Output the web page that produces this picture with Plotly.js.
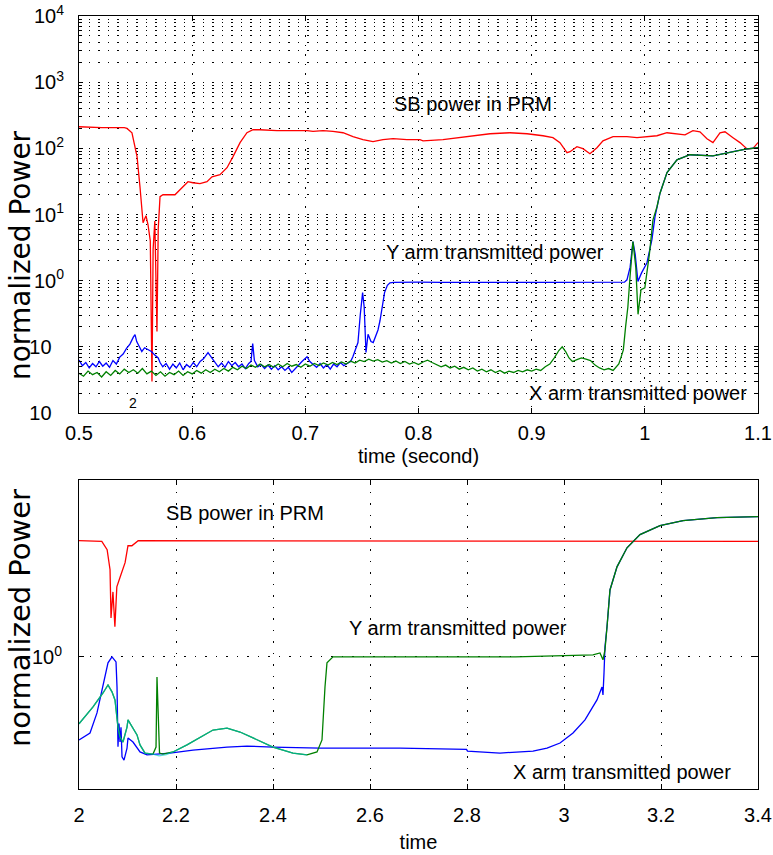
<!DOCTYPE html>
<html>
<head>
<meta charset="utf-8">
<script src="https://cdn.plot.ly/plotly-3.0.1.min.js"></script>
<style>html,body{margin:0;padding:0;background:#fff;}#chart{width:773px;height:855px;}</style>
</head>
<body>
<div id="chart"></div>
<script>
// ---------- TOP PANEL DATA (time in seconds, normalized power) ----------
const topSBTime = [0.500,0.520,0.540,0.5424,0.5468,0.5513,0.5539,0.5557,0.5566,0.5592,0.5610,0.5630,0.5645,0.5655,0.5670,0.5689,0.5700,0.5716,0.5742,0.5848,0.5910,0.5963,0.6007,0.6069,0.6131,0.6175,0.6246,0.6308,0.6361,0.6423,0.6484,0.6538,0.6599,0.6750,0.6891,0.7015,0.7068,0.7156,0.7244,0.7333,0.7421,0.7509,0.7598,0.7686,0.7775,0.7898,0.8013,0.8040,0.8216,0.8428,0.8632,0.8808,0.8959,0.9100,0.9188,0.9250,0.9312,0.9339,0.9400,0.9453,0.9515,0.9577,0.9630,0.9719,0.9842,0.9931,1.0019,1.0107,1.0196,1.0284,1.0355,1.0425,1.0487,1.0549,1.0602,1.0664,1.0708,1.0779,1.0841,1.0903,1.0956,1.1000];
const topSBPower = [212,205,205,200,172,75,26,10.6,7.5,9.6,7.0,4.0,0.03,3.0,8.0,0.17,6.0,18.6,19.9,19.9,25.4,31.3,30.2,29.2,31.3,37.2,39.9,51,75,122,172,191,191,185,185,185,180,185,180,172,150,135,126,135,140,135,135,130,135,150,166,172,166,155,145,122,86,89,106,99,83,102,130,150,150,145,150,155,172,166,160,185,178,140,122,172,178,145,122,98,100,122];

const topYArmTime = [0.500,0.503,0.506,0.509,0.512,0.515,0.518,0.521,0.524,0.527,
  0.530,0.533,0.536,0.539,0.542,0.545,0.548,0.5495,0.551,0.553,
  0.5555,0.558,0.561,0.564,0.567,0.570,0.5716,0.574,0.577,0.580,
  0.583,0.586,0.589,0.592,0.595,0.598,0.601,0.604,0.607,0.610,
  0.614,0.617,0.620,0.623,0.626,0.629,0.632,0.635,0.638,0.641,
  0.644,0.647,0.650,0.652,0.6535,0.655,0.658,0.661,0.664,0.667,
  0.670,0.673,0.676,0.679,0.682,0.685,0.688,0.691,0.694,0.697,
  0.7015,0.704,0.707,0.710,0.713,0.716,0.719,0.722,0.725,0.728,
  0.731,0.734,0.737,0.740,0.742,0.7445,0.7465,0.7485,0.7506,0.752,
  0.7536,0.7554,0.758,0.760,0.762,0.7642,0.766,0.7677,0.770,0.7725,
  0.7748,0.778,0.785,0.80,0.82,0.84,0.86,0.88,0.90,0.92,
  0.94,0.96,0.975,0.982,0.9842,0.987,0.9895,0.9915,0.9939,0.997,
  1.0019,1.0063,1.009,1.0107,1.0134,1.0196,1.0284,1.0399,1.0602,1.0779,
  1.0903,1.1];
const topYArmPower = [0.063,0.052,0.058,0.048,0.056,0.050,0.060,0.051,0.057,0.049,
  0.062,0.055,0.070,0.078,0.095,0.110,0.140,0.153,0.120,0.100,
  0.085,0.097,0.090,0.085,0.075,0.068,0.058,0.050,0.056,0.046,
  0.055,0.048,0.057,0.045,0.054,0.049,0.058,0.050,0.060,0.066,
  0.082,0.070,0.058,0.050,0.057,0.049,0.060,0.052,0.058,0.050,
  0.055,0.047,0.056,0.060,0.112,0.062,0.050,0.054,0.047,0.053,
  0.046,0.052,0.045,0.050,0.044,0.049,0.041,0.047,0.053,0.060,
  0.071,0.060,0.054,0.049,0.056,0.048,0.054,0.046,0.055,0.050,
  0.058,0.052,0.056,0.060,0.071,0.090,0.116,0.300,0.660,0.400,
  0.082,0.155,0.120,0.116,0.140,0.180,0.250,0.360,0.660,0.850,
  0.930,0.945,0.950,0.950,0.940,0.935,0.940,0.945,0.940,0.945,
  0.940,0.945,0.940,0.950,1.03,1.6,3.9,2.5,0.97,1.3,
  1.87,4.2,9.3,13,21,43,67,80,77,89,
  98,102];

const topXArmTime = [0.500,0.504,0.508,0.512,0.516,0.520,0.524,0.528,0.532,0.536,
  0.540,0.544,0.548,0.552,0.556,0.560,0.564,0.568,0.572,0.576,
  0.580,0.584,0.588,0.592,0.596,0.600,0.604,0.608,0.612,0.616,
  0.620,0.624,0.628,0.632,0.636,0.640,0.644,0.648,0.652,0.656,
  0.660,0.664,0.668,0.672,0.676,0.680,0.684,0.688,0.692,0.696,
  0.700,0.704,0.708,0.712,0.716,0.720,0.724,0.728,0.732,0.736,
  0.740,0.744,0.748,0.752,0.756,0.760,0.764,0.768,0.772,0.776,
  0.780,0.784,0.788,0.792,0.796,0.800,0.804,0.808,0.812,0.816,
  0.820,0.824,0.828,0.832,0.836,0.840,0.844,0.848,0.852,0.856,
  0.860,0.864,0.868,0.872,0.876,0.880,0.884,0.888,0.892,0.896,
  0.900,0.904,0.908,0.912,0.916,0.920,0.924,0.927,0.930,0.933,
  0.936,0.940,0.944,0.948,0.952,0.956,0.960,0.964,0.968,0.972,
  0.975,0.977,0.979,0.981,0.983,0.985,0.987,0.9895,0.992,0.994,
  0.9966,1.000,1.004,1.0072,1.009,1.0107,1.0134,1.0196,1.0284,1.0399,
  1.0602,1.0779,1.0903,1.1];
const topXArmPower = [0.040,0.036,0.043,0.038,0.041,0.035,0.042,0.037,0.044,0.039,
  0.046,0.041,0.045,0.040,0.047,0.039,0.043,0.037,0.042,0.036,
  0.041,0.038,0.043,0.037,0.042,0.039,0.044,0.040,0.045,0.041,
  0.046,0.042,0.047,0.043,0.049,0.045,0.051,0.047,0.053,0.049,
  0.055,0.050,0.054,0.049,0.055,0.050,0.056,0.051,0.054,0.049,
  0.055,0.051,0.056,0.052,0.057,0.053,0.058,0.054,0.059,0.055,
  0.061,0.057,0.063,0.060,0.065,0.061,0.064,0.059,0.062,0.057,
  0.061,0.056,0.060,0.055,0.058,0.054,0.059,0.063,0.058,0.054,
  0.050,0.053,0.048,0.051,0.046,0.049,0.045,0.048,0.043,0.046,
  0.042,0.045,0.041,0.044,0.040,0.043,0.041,0.044,0.042,0.045,
  0.043,0.046,0.044,0.050,0.055,0.068,0.088,0.100,0.085,0.068,
  0.060,0.064,0.068,0.065,0.062,0.053,0.048,0.045,0.047,0.044,
  0.050,0.055,0.070,0.090,0.20,0.40,1.2,3.9,1.6,0.31,
  0.73,0.78,2.5,8.3,10.5,13,21,43,67,80,
  77,89,98,102];

const topXTicks = [0.5,0.6,0.7,0.8,0.9,1.0,1.1];
const topXTickText = ['0.5','0.6','0.7','0.8','0.9','1','1.1'];
const topDecades = [-2,-1,0,1,2,3,4];
const topDecadeText = ['10<span style="color:white"><sup>-2</sup></span>','10<span style="color:white"><sup>-1</sup></span>','10<sup>0</sup>','10<sup>1</sup>','10<sup>2</sup>','10<sup>3</sup>','10<sup>4</sup>'];

// ---------- BOTTOM PANEL DATA ----------
const botSBTime = [2.000,2.040,2.047,2.058,2.064,2.066,2.070,2.074,2.078,2.085,2.095,2.101,2.109,2.122,2.500,3.000,3.400];
const botSBPower = [4.54,4.54,4.50,4.04,3.11,1.66,2.33,1.48,2.49,2.84,3.41,4.25,4.25,4.54,4.52,4.50,4.50];

const botXArmTime = [2.000,2.0227,2.0371,2.0495,2.0598,2.0680,2.0722,2.0763,2.0784,2.0794,
  2.0804,2.0825,2.0845,2.0866,2.0887,2.0928,2.0990,2.1010,2.1113,2.1258,
  2.1402,2.1876,2.2351,2.3052,2.3464,2.4000,2.4969,2.6619,2.7990,2.8010,
  2.8680,2.9361,2.9649,2.9918,3.0186,3.0433,3.0680,3.0784,3.0804,3.0825,
  3.0845,3.0887,3.0948,3.1093,3.1299,3.1567,3.1979,3.2454,3.3155,3.4000];
const botXArmPower = [0.339,0.371,0.482,0.676,0.925,1.0,0.962,0.937,0.676,0.50,
  0.31,0.42,0.33,0.40,0.272,0.261,0.305,0.348,0.330,0.290,
  0.279,0.286,0.297,0.309,0.313,0.309,0.305,0.305,0.300,0.293,
  0.286,0.293,0.305,0.326,0.371,0.440,0.571,0.676,0.609,0.812,
  1.14,1.48,2.39,3.23,4.14,4.91,5.52,5.89,6.13,6.21];

const botYArmTime = [2.000,2.0289,2.0495,2.0598,2.0680,2.0742,2.0804,2.0845,2.0907,2.0990,
  2.1010,2.1093,2.1196,2.1258,2.1361,2.1526,2.1588,2.1608,2.1629,2.1649,
  2.1660,2.1732,2.1938,2.2227,2.2495,2.2763,2.3052,2.3320,2.3588,2.4000,
  2.4412,2.4701,2.4907,2.5010,2.5072,2.5113,2.5237,2.7000,2.9000,3.0598,
  3.0742,3.0804,3.0845,3.0887,3.0948,3.1093,3.1299,3.1567,3.1979,3.2454,
  3.3155,3.4000];
const botYArmPower = [0.418,0.521,0.625,0.694,0.634,0.571,0.401,0.352,0.330,0.401,
  0.440,0.401,0.362,0.318,0.286,0.282,0.309,0.770,0.521,0.440,
  0.286,0.282,0.290,0.318,0.352,0.386,0.396,0.376,0.348,0.309,
  0.286,0.279,0.290,0.339,0.676,0.925,1.0,1.0,1.0,1.026,
  1.053,0.962,1.095,1.48,2.39,3.23,4.14,4.91,5.52,5.89,
  6.13,6.21];

const botYArmAltTime = [2.000,2.0289,2.0495,2.0598,2.0680,2.0742,2.0804,2.0845,2.0907,2.0990,2.1010,2.1093,2.1196,2.1258,2.1361,2.1526,2.1650,2.1800,2.1938,2.2227,2.2495,2.2763,2.3052,2.3320,2.3588,2.4000,2.4412,2.4701];
const botYArmAltPower = [0.418,0.521,0.625,0.694,0.634,0.571,0.401,0.352,0.330,0.401,0.440,0.401,0.362,0.318,0.286,0.282,0.276,0.280,0.290,0.318,0.352,0.386,0.396,0.376,0.348,0.309,0.286,0.279];

const botXTicks = [2.0,2.2,2.4,2.6,2.8,3.0,3.2,3.4];
const botXTickText = ['2','2.2','2.4','2.6','2.8','3','3.2','3.4'];

// ---------- BUILD ----------
const topMajorVals = topDecades.map(d => Math.pow(10, d));
const topMinorVals = [];
topDecades.slice(0, -1).forEach(d => {
  for (let k = 2; k <= 9; k++) topMinorVals.push(k * Math.pow(10, d));
});

const FONT = 'Liberation Sans, Arial, Helvetica, sans-serif';
const RED = '#ff0000', BLUE = '#0000ff', GREEN = '#008000';
const DOTS = '1.5px,8px';

const traces = [
  {x: topSBTime, y: topSBPower, xaxis: 'x', yaxis: 'y', mode: 'lines', name: 'SB power in PRM', line: {color: RED, width: 1.3}},
  {x: topYArmTime, y: topYArmPower, xaxis: 'x', yaxis: 'y', mode: 'lines', name: 'Y arm transmitted power', line: {color: BLUE, width: 1.3}},
  {x: topXArmTime, y: topXArmPower, xaxis: 'x', yaxis: 'y', mode: 'lines', name: 'X arm transmitted power', line: {color: GREEN, width: 1.3}},
  {x: botSBTime, y: botSBPower, xaxis: 'x2', yaxis: 'y2', mode: 'lines', name: 'SB power in PRM', line: {color: RED, width: 1.3}},
  {x: botXArmTime, y: botXArmPower, xaxis: 'x2', yaxis: 'y2', mode: 'lines', name: 'X arm transmitted power', line: {color: BLUE, width: 1.3}},
  {x: botYArmTime, y: botYArmPower, xaxis: 'x2', yaxis: 'y2', mode: 'lines', name: 'Y arm transmitted power', line: {color: GREEN, width: 1.3}},
  {x: botYArmAltTime, y: botYArmAltPower, xaxis: 'x2', yaxis: 'y2', mode: 'lines', name: 'Y arm (alt)', opacity: 0.65, line: {color: '#00c8c8', width: 1.3}}
];

const axBase = {
  showline: true, linecolor: '#000', linewidth: 1, mirror: 'ticks',
  ticks: 'inside', tickcolor: '#000', ticklen: 4, tickwidth: 1,
  showgrid: true, gridcolor: '#000', gridwidth: 1, griddash: DOTS,
  zeroline: false, tickfont: {family: FONT, size: 20, color: '#000'}
};

const layout = {
  width: 773, height: 855,
  margin: {l: 79, r: 15, t: 16, b: 66},
  paper_bgcolor: '#fff', plot_bgcolor: '#fff',
  showlegend: false,
  font: {family: FONT, size: 20, color: '#000'},
  xaxis: Object.assign({}, axBase, {
    domain: [0, 1], anchor: 'y', range: [0.5, 1.1],
    tickmode: 'array', tickvals: topXTicks, ticktext: topXTickText,
    ticklen: 5, ticklabelstandoff: 2,
    title: {text: 'time (second)', font: {family: FONT, size: 20, color: '#000'}, standoff: 5}
  }),
  yaxis: Object.assign({}, axBase, {
    domain: [0.4864, 1], anchor: 'x', type: 'log', range: [-2, 4],
    tickmode: 'array', tickvals: topMajorVals, ticktext: topDecadeText,
    ticklen: 4, ticklabelstandoff: 10,
    minor: {tickmode: 'array', tickvals: topMinorVals, ticks: 'inside', ticklen: 3, tickcolor: '#000',
            showgrid: true, gridcolor: '#000', gridwidth: 1, griddash: DOTS}
  }),
  xaxis2: Object.assign({}, axBase, {
    domain: [0, 1], anchor: 'y2', range: [2, 3.4],
    tickmode: 'array', tickvals: botXTicks, ticktext: botXTickText,
    ticklen: 5, ticklabelstandoff: 8, griddash: '1.5px,10px',
    title: {text: 'time', font: {family: FONT, size: 20, color: '#000'}, standoff: 9}
  }),
  yaxis2: Object.assign({}, axBase, {
    domain: [0, 0.3997], anchor: 'x2', type: 'log', range: [-0.747, 1.0],
    tickmode: 'array', tickvals: [1], ticktext: ['10<sup>0</sup>'],
    ticklen: 5, ticklabelstandoff: 12, griddash: '1.5px,9px'
  }),
  annotations: [
    {text: 'normalized Power', textangle: -90, xref: 'paper', yref: 'paper', x: -0.0869, y: 0.6908, xanchor: 'center', yanchor: 'middle', showarrow: false, font: {family: 'DejaVu Sans, sans-serif', size: 28, color: '#000'}},
    {text: 'normalized Power', textangle: -90, xref: 'paper', yref: 'paper', x: -0.0869, y: 0.2212, xanchor: 'center', yanchor: 'middle', showarrow: false, font: {family: 'DejaVu Sans, sans-serif', size: 29, color: '#000'}},
    {text: 'SB power in PRM', xref: 'paper', yref: 'paper', x: 0.5803, y: 0.8862, xanchor: 'center', yanchor: 'middle', showarrow: false, font: {family: FONT, size: 20, color: '#000'}},
    {text: 'Y arm transmitted power', xref: 'paper', yref: 'paper', x: 0.6127, y: 0.6947, xanchor: 'center', yanchor: 'middle', showarrow: false, font: {family: FONT, size: 20, color: '#000'}},
    {text: 'X arm transmitted power', xref: 'paper', yref: 'paper', x: 0.8233, y: 0.5123, xanchor: 'center', yanchor: 'middle', showarrow: false, font: {family: FONT, size: 20, color: '#000'}},
    {text: '2', xref: 'paper', yref: 'paper', x: 0.0795, y: 0.4994, xanchor: 'center', yanchor: 'middle', showarrow: false, font: {family: FONT, size: 14, color: '#000'}},
    {text: 'SB power in PRM', xref: 'paper', yref: 'paper', x: 0.2445, y: 0.3571, xanchor: 'center', yanchor: 'middle', showarrow: false, font: {family: FONT, size: 20, color: '#000'}},
    {text: 'Y arm transmitted power', xref: 'paper', yref: 'paper', x: 0.5582, y: 0.2083, xanchor: 'center', yanchor: 'middle', showarrow: false, font: {family: FONT, size: 20, color: '#000'}},
    {text: 'X arm transmitted power', xref: 'paper', yref: 'paper', x: 0.7997, y: 0.0220, xanchor: 'center', yanchor: 'middle', showarrow: false, font: {family: FONT, size: 20, color: '#000'}}
  ]
};

Plotly.newPlot('chart', traces, layout, {staticPlot: true, displayModeBar: false});
</script>
</body>
</html>
